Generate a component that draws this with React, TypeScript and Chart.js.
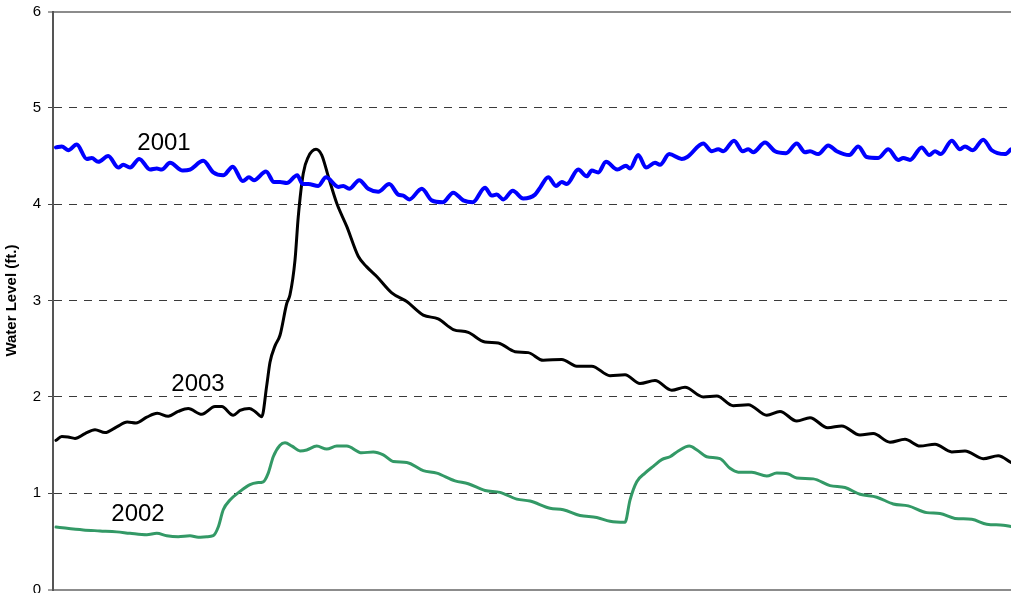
import { useEffect, useRef } from "react";
import { Chart, registerables } from "chart.js";

Chart.register(...registerables);

const FONT = '"Liberation Sans", Arial, sans-serif';

// Day index along the (hidden) x axis and water level (ft.) for each year
const days2001 = [1.2, 3.5, 6.1, 9.5, 13.5, 15.5, 18.1, 22.1, 26.1, 28.1, 30.8, 34.5, 38.8, 41.5, 43.5, 46.8, 51.9, 54.8, 60.1, 64.1, 68.1, 71.9, 75.9, 78.4, 80.4, 85.2, 88.4, 90.8, 93.5, 97.7, 99.9, 102.1, 106.1, 109.2, 114.1, 116.1, 118.5, 122.5, 126.1, 130.1, 134.5, 138.1, 140.1, 142.5, 147.5, 151.5, 155.9, 160.1, 164.1, 167.9, 172.8, 175.5, 177.5, 180.1, 183.9, 188.1, 192.8, 194.8, 198.1, 201.2, 203.5, 205.5, 210.1, 213.5, 215.5, 218.1, 221.2, 225.7, 229.2, 230.8, 234.1, 237.2, 240.8, 242.8, 246.5, 251.5, 253.7, 260.1, 263.5, 266.1, 268.1, 272.4, 275.9, 278.1, 280.1, 284.8, 288.8, 293.2, 297.5, 300.8, 302.8, 306.1, 310.1, 313.5, 318.5, 322.1, 325.5, 330.1, 334.1, 338.1, 340.1, 342.8, 347.5, 350.5, 352.8, 355.1, 359.5, 362.8, 364.8, 367.9, 372.1, 375.5, 380.8, 383.2];
const levels2001 = [4.59, 4.6, 4.56, 4.62, 4.47, 4.48, 4.44, 4.5, 4.38, 4.41, 4.38, 4.47, 4.36, 4.37, 4.36, 4.43, 4.35, 4.36, 4.45, 4.33, 4.3, 4.39, 4.24, 4.28, 4.25, 4.34, 4.23, 4.23, 4.22, 4.3, 4.21, 4.21, 4.19, 4.28, 4.18, 4.19, 4.16, 4.25, 4.16, 4.13, 4.21, 4.1, 4.09, 4.05, 4.16, 4.04, 4.02, 4.12, 4.04, 4.02, 4.17, 4.09, 4.1, 4.05, 4.14, 4.06, 4.1, 4.17, 4.28, 4.19, 4.23, 4.21, 4.36, 4.29, 4.35, 4.33, 4.44, 4.36, 4.4, 4.37, 4.51, 4.38, 4.43, 4.41, 4.52, 4.47, 4.49, 4.63, 4.55, 4.57, 4.55, 4.66, 4.55, 4.57, 4.54, 4.64, 4.55, 4.53, 4.63, 4.54, 4.55, 4.52, 4.61, 4.55, 4.51, 4.6, 4.49, 4.48, 4.57, 4.46, 4.48, 4.46, 4.59, 4.51, 4.55, 4.52, 4.66, 4.57, 4.6, 4.56, 4.67, 4.56, 4.52, 4.57];

const days2003 = [1.2, 3.5, 6.0, 8.8, 12.8, 16.8, 20.8, 25.5, 29.7, 33.2, 37.5, 41.7, 46.1, 50.1, 54.1, 59.5, 64.8, 67.5, 72.1, 74.8, 78.5, 80.8, 83.5, 85.5, 86.8, 88.8, 90.8, 93.5, 94.8, 96.8, 98.1, 100.1, 102.1, 105.2, 107.5, 110.1, 113.5, 117.5, 122.1, 125.5, 129.5, 135.5, 141.5, 148.1, 154.1, 160.1, 166.1, 172.8, 178.1, 184.8, 190.1, 196.1, 203.5, 209.5, 215.5, 222.8, 228.8, 234.8, 240.8, 247.5, 252.8, 260.1, 265.5, 272.1, 278.1, 285.5, 290.8, 297.5, 302.8, 309.9, 315.5, 322.8, 328.1, 334.8, 340.8, 346.8, 352.8, 359.5, 364.8, 372.1, 378.1, 383.2];
const levels2003 = [1.55, 1.59, 1.585, 1.57, 1.62, 1.66, 1.63, 1.69, 1.74, 1.73, 1.79, 1.83, 1.8, 1.85, 1.88, 1.82, 1.9, 1.9, 1.81, 1.86, 1.88, 1.85, 1.795, 2.12, 2.36, 2.53, 2.64, 2.97, 3.06, 3.42, 3.87, 4.32, 4.49, 4.57, 4.51, 4.29, 4.01, 3.77, 3.46, 3.35, 3.25, 3.08, 2.99, 2.85, 2.81, 2.7, 2.67, 2.57, 2.56, 2.47, 2.46, 2.38, 2.39, 2.32, 2.32, 2.22, 2.23, 2.14, 2.17, 2.07, 2.1, 2.0, 2.01, 1.91, 1.92, 1.81, 1.85, 1.75, 1.785, 1.68, 1.7, 1.605, 1.62, 1.53, 1.56, 1.49, 1.51, 1.43, 1.44, 1.36, 1.39, 1.32];

const days2002 = [1.2, 12.1, 18.8, 25.5, 30.8, 37.5, 41.5, 45.5, 50.1, 54.8, 58.1, 61.5, 64.1, 66.1, 68.1, 70.8, 74.8, 78.8, 81.5, 84.1, 86.1, 88.1, 90.8, 92.8, 95.6, 98.8, 101.5, 105.5, 109.5, 113.5, 117.5, 123.5, 128.1, 132.1, 136.1, 141.5, 148.1, 153.5, 160.8, 166.1, 172.8, 178.8, 185.5, 190.8, 198.8, 204.1, 210.8, 217.5, 222.8, 228.8, 230.8, 233.5, 236.8, 240.1, 243.5, 246.8, 250.1, 254.5, 257.6, 261.5, 266.8, 270.8, 274.1, 279.5, 285.5, 289.5, 294.1, 297.5, 304.1, 310.8, 316.8, 322.8, 329.5, 336.1, 342.1, 349.5, 354.8, 360.8, 367.5, 373.5, 380.1, 383.2];
const levels2002 = [0.65, 0.62, 0.61, 0.6, 0.585, 0.57, 0.585, 0.56, 0.55, 0.56, 0.545, 0.55, 0.56, 0.65, 0.83, 0.93, 1.02, 1.09, 1.11, 1.12, 1.21, 1.38, 1.5, 1.525, 1.49, 1.44, 1.45, 1.49, 1.46, 1.49, 1.49, 1.42, 1.43, 1.4, 1.33, 1.32, 1.235, 1.21, 1.13, 1.1, 1.03, 1.01, 0.94, 0.92, 0.845, 0.83, 0.77, 0.75, 0.71, 0.7, 0.93, 1.12, 1.21, 1.28, 1.35, 1.38, 1.44, 1.49, 1.45, 1.38, 1.36, 1.26, 1.22, 1.22, 1.18, 1.21, 1.2, 1.16, 1.15, 1.08, 1.06, 0.99, 0.96, 0.89, 0.87, 0.8, 0.79, 0.74, 0.73, 0.68, 0.67, 0.655];

// In-chart series labels (text, anchor day, anchor level)
const labelTexts = ["2001", "2003", "2002"];
const labelDays = [44.4, 58, 34];
const labelLevels = [4.563, 2.065, 0.716];

const yMin = 0;
const yMax = 6;
const xMax = 383.2;

export default function App() {
  const ref = useRef<HTMLCanvasElement>(null);

  useEffect(() => {
    if (!ref.current) return;
    const pts = (xs: number[], ys: number[]) => xs.map((x, i) => ({ x, y: ys[i] }));

    const labelPlugin = {
      id: "seriesLabels",
      afterDatasetsDraw(chart: any) {
        const { ctx, scales } = chart;
        const xs = scales.x;
        const ys = scales.y;
        ctx.save();
        ctx.font = `24px ${FONT}`;
        ctx.fillStyle = "#000";
        ctx.textAlign = "center";
        ctx.textBaseline = "alphabetic";
        labelTexts.forEach((t, i) => {
          ctx.fillText(t, xs.getPixelForValue(labelDays[i]), ys.getPixelForValue(labelLevels[i]));
        });
        ctx.restore();
      },
    };

    const isEdge = (c: any) => c && c.tick && (c.tick.value === yMin || c.tick.value === yMax);

    const chart = new Chart(ref.current, {
      type: "line",
      data: {
        datasets: [
          {
            label: "2001",
            data: pts(days2001, levels2001),
            borderColor: "#0000ff",
            borderWidth: 4,
            cubicInterpolationMode: "monotone",
          },
          {
            label: "2003",
            data: pts(days2003, levels2003),
            borderColor: "#000000",
            borderWidth: 3,
            cubicInterpolationMode: "monotone",
          },
          {
            label: "2002",
            data: pts(days2002, levels2002),
            borderColor: "#339966",
            borderWidth: 3,
            cubicInterpolationMode: "monotone",
          },
        ],
      },
      options: {
        animation: false,
        responsive: false,
        maintainAspectRatio: false,
        layout: { padding: { top: 11.5, bottom: 3.3, left: 0, right: 0 } },
        plugins: { legend: { display: false }, tooltip: { enabled: false } },
        elements: {
          point: { radius: 0 },
          line: { borderCapStyle: "round", borderJoinStyle: "round" },
        },
        scales: {
          x: { type: "linear", min: 0, max: xMax, display: false },
          y: {
            min: yMin,
            max: yMax,
            afterFit: (s: any) => {
              s.width = 53;
              s.paddingTop = 0;
              s.paddingBottom = 0;
            },
            ticks: { stepSize: 1, color: "#000", font: { family: FONT, size: 15 }, padding: 7 },
            grid: {
              color: (c: any) => (isEdge(c) ? "#8c8c8c" : "#3a3a3a"),
              lineWidth: (c: any) => (isEdge(c) ? 2 : 1),
              drawTicks: true,
              tickLength: 5,
              tickColor: "#444",
              tickWidth: 1,
              tickBorderDash: [],
            },
            border: {
              display: true,
              color: "#555",
              width: 2,
              dash: (c: any) => (isEdge(c) ? [] : [8, 7]),
            },
            title: {
              display: true,
              text: "Water Level (ft.)",
              color: "#000",
              font: { family: FONT, size: 15, weight: "bold" },
              padding: { top: 3, bottom: 0 },
            },
          },
        },
      },
      plugins: [labelPlugin],
    } as any);

    return () => chart.destroy();
  }, []);

  return (
    <div style={{ position: "fixed", left: 0, top: 0, width: 1011, height: 593, overflow: "hidden", background: "#fff" }}>
      <canvas ref={ref} width={1011} height={593} style={{ display: "block" }} />
    </div>
  );
}
